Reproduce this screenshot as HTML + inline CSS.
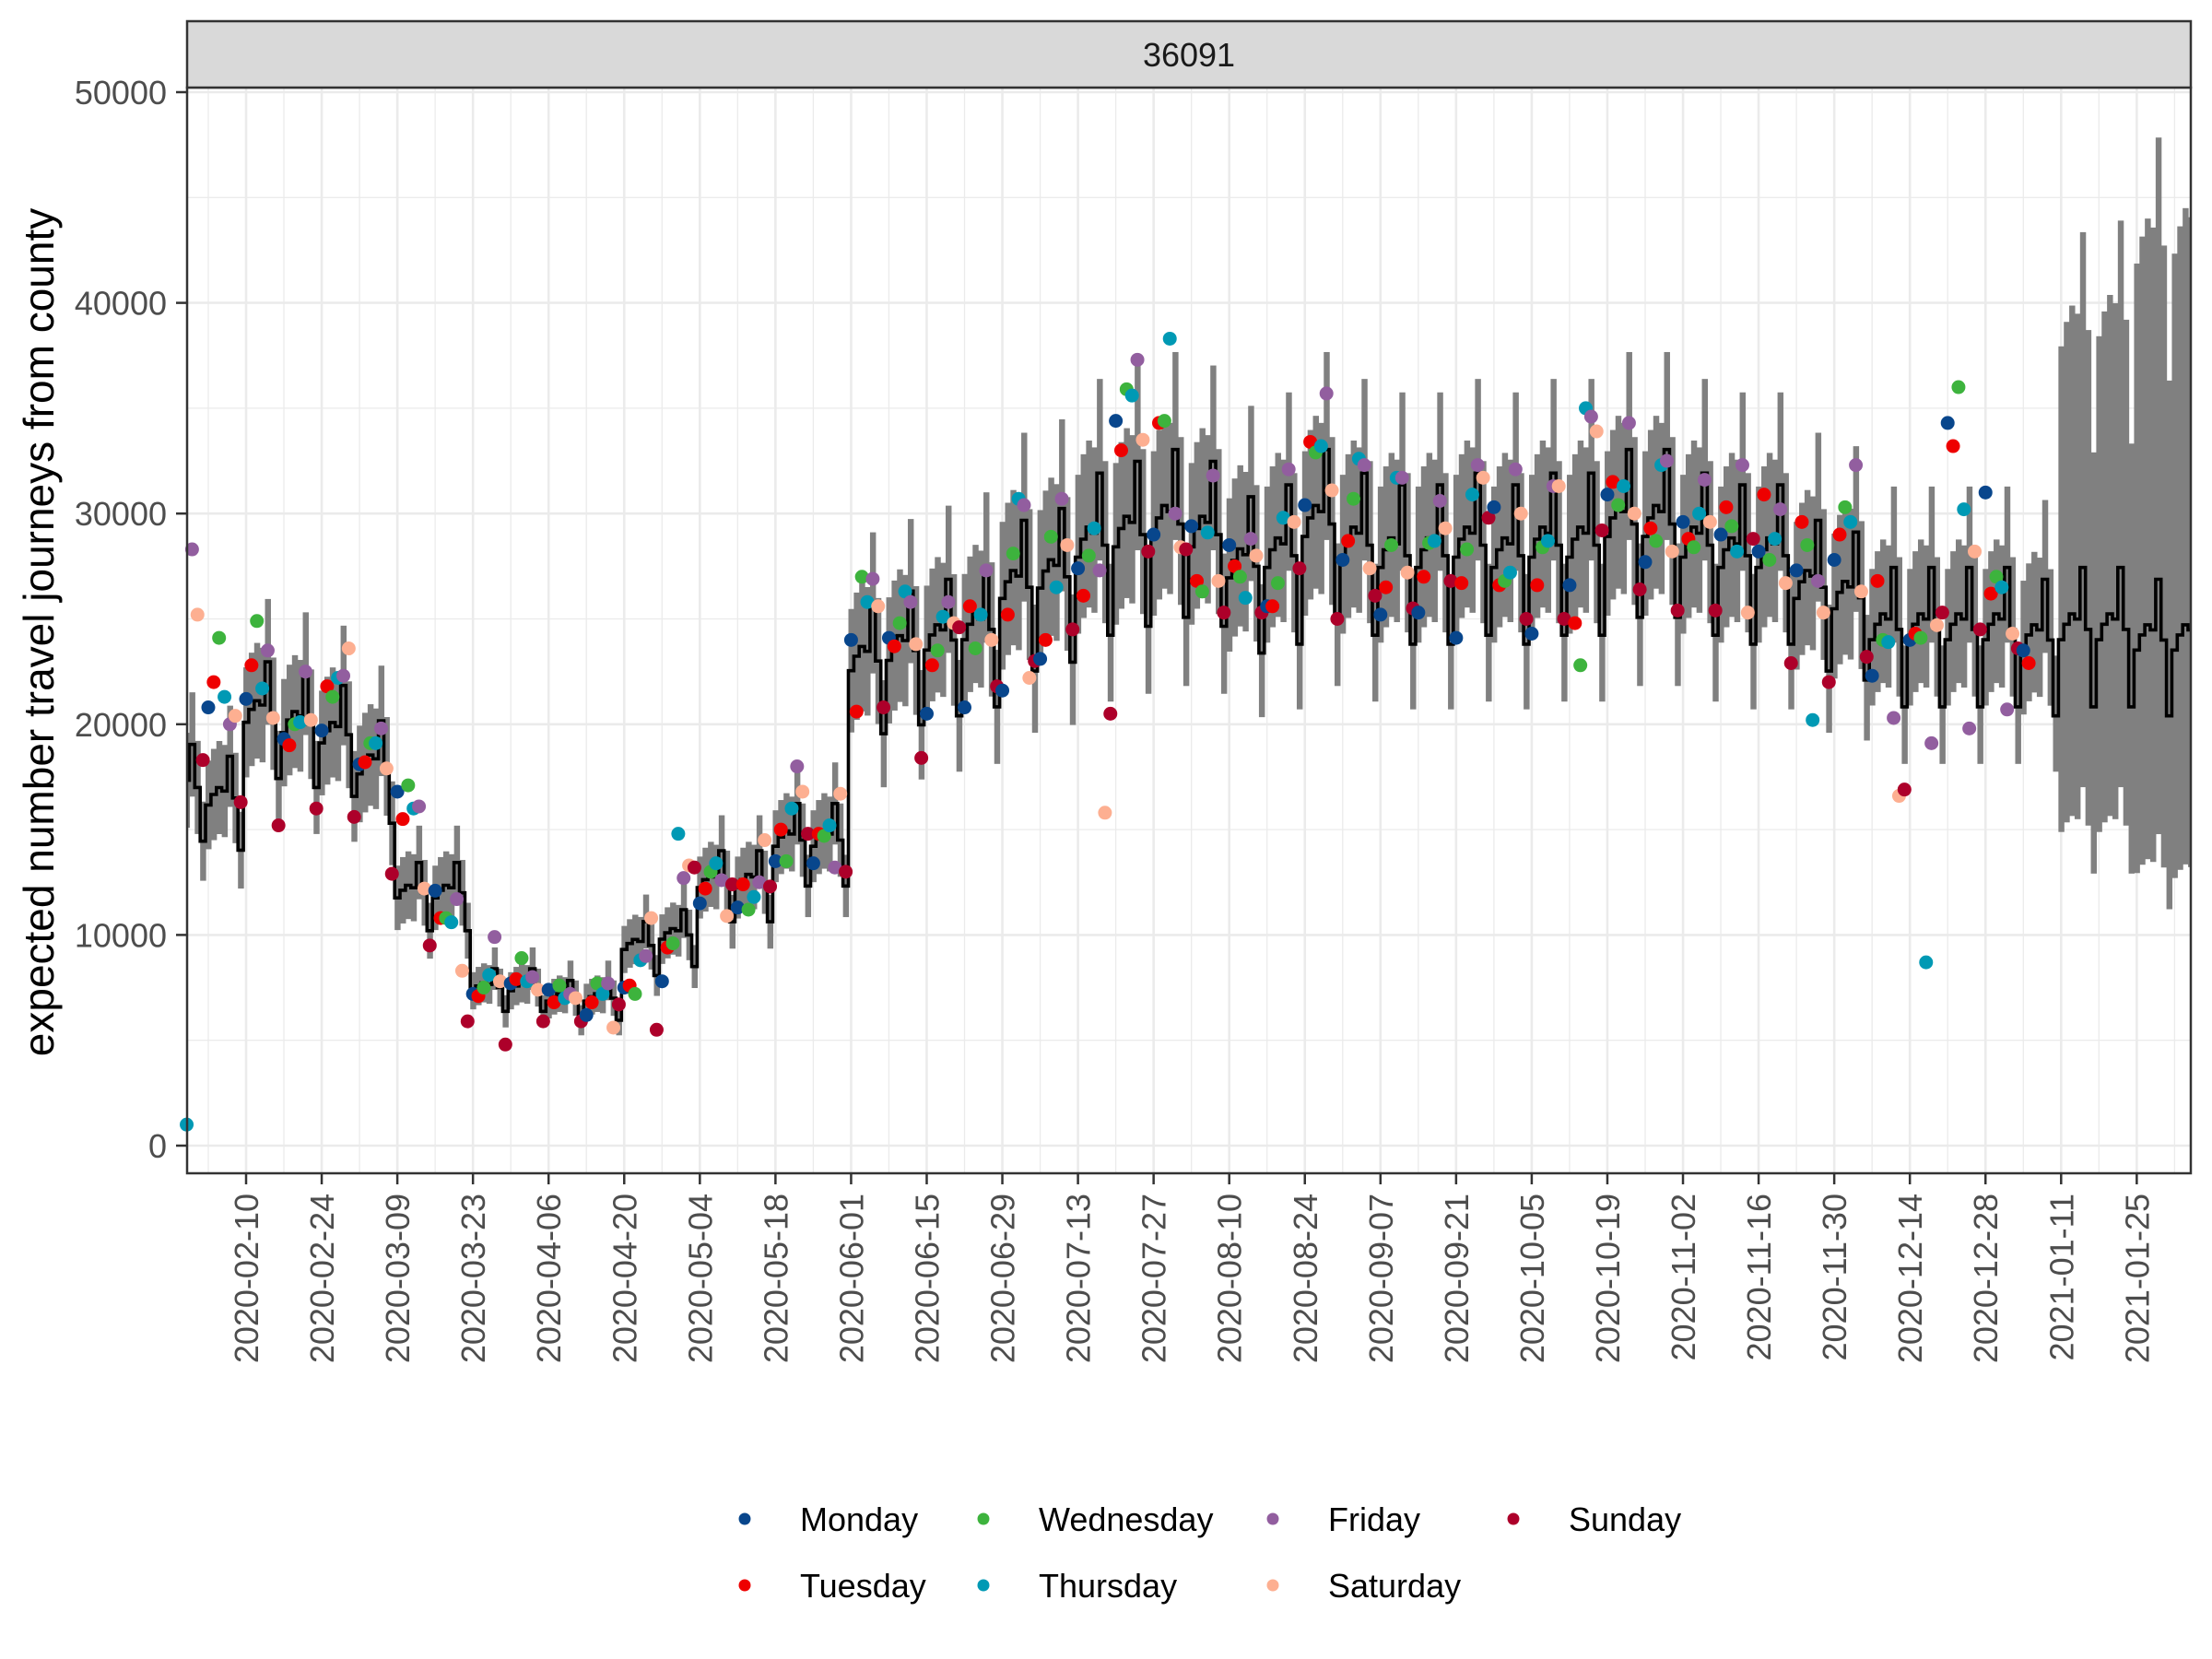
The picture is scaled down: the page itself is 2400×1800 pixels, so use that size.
<!DOCTYPE html>
<html><head><meta charset="utf-8"><title>36091</title>
<style>body{margin:0;background:#fff}svg{display:block;font-family:"Liberation Sans",Arial,sans-serif}</style>
</head><body>
<svg id="chart" xmlns="http://www.w3.org/2000/svg" width="2400" height="1800" viewBox="0 0 2400 1800">
<rect x="0" y="0" width="2400" height="1800" fill="#fff"/>
<g id="grid"></g>
<g id="ribbon"></g>
<path id="fitline" fill="none" stroke="#000" stroke-width="3.6"/>
<g id="points"></g>
<rect x="203" y="95" width="2174" height="1178" fill="none" stroke="#333" stroke-width="2.5"/>
<rect x="203" y="23" width="2174" height="72" fill="#d9d9d9" stroke="#333" stroke-width="2.5"/>
<text x="1290" y="72" font-size="36" text-anchor="middle" fill="#1a1a1a">36091</text>
<g id="axes"></g>
<text transform="translate(58,686) rotate(-90)" font-size="46" text-anchor="middle" fill="#000">expected number travel journeys from county</text>
<g id="legend"></g>
</svg>
<script>
// data (thousands of journeys)
const dayNames = ["Monday","Tuesday","Wednesday","Thursday","Friday","Saturday","Sunday"];
const dayColors = ["#08468C","#EE0000","#3DB33D","#0099B4","#925E9F","#FDAF91","#AD002A"];
const weekStart = "2020-01-27";
const fitLevel = [17,16.5,20.5,20,19.5,18,12,12,7.5,7.5,7,7,9.5,10,12.5,12.5,14.5,14.5,23,23.5,24,24.5,26.5,27,28.5,29,29.5,29,27.5,28,29.5,28.5,28,28,28.5,28,28.5,28.5,29.5,29.5,28.5,28,28,26.5,26,24.5,24.5,24.5,24.5,24,24.5,24.5,24,24];
const dowEffect = [0.98,1.01,1.03,1.02,1.12,1.0,0.85];
const ribbonUp = [0.13,0.13,0.13,0.13,0.13,0.13,0.13,0.13,0.12,0.12,0.12,0.12,0.12,0.12,0.12,0.12,0.12,0.12,0.13,0.13,0.13,0.13,0.14,0.14,0.14,0.14,0.14,0.14,0.14,0.14,0.14,0.14,0.14,0.14,0.14,0.14,0.14,0.14,0.14,0.14,0.14,0.14,0.14,0.14,0.14,0.14,0.14,0.14,0.14,0.14,0.58,0.6,0.78,0.8];
const ribbonDown = [0.13,0.13,0.13,0.13,0.13,0.13,0.13,0.13,0.12,0.12,0.12,0.12,0.12,0.12,0.12,0.12,0.12,0.12,0.13,0.13,0.13,0.13,0.13,0.13,0.13,0.13,0.13,0.13,0.13,0.13,0.13,0.13,0.13,0.13,0.13,0.13,0.13,0.13,0.13,0.13,0.13,0.13,0.13,0.13,0.13,0.13,0.13,0.13,0.13,0.13,0.38,0.38,0.45,0.46];
const observed = [
[null,null,null,1.0,28.3,25.2,18.3],
[20.8,22.0,24.1,21.3,20.0,20.4,16.3],
[21.2,22.8,24.9,21.7,23.5,20.3,15.2],
[19.3,19.0,20.0,20.1,22.5,20.2,16.0],
[19.7,21.8,21.3,22.2,22.3,23.6,15.6],
[18.1,18.2,19.1,19.1,19.8,17.9,12.9],
[16.8,15.5,17.1,16.0,16.1,12.2,9.5],
[12.1,10.8,10.8,10.6,11.7,8.3,5.9],
[7.2,7.1,7.5,8.1,9.9,7.8,4.8],
[7.7,7.9,8.9,7.8,8.0,7.4,5.9],
[7.4,6.8,7.6,7.0,7.2,7.0,5.9],
[6.2,6.8,7.7,7.2,7.7,5.6,6.7],
[7.5,7.6,7.2,8.8,9.0,10.8,5.5],
[7.8,9.4,9.6,14.8,12.7,13.3,13.2],
[11.5,12.2,13.0,13.4,12.6,10.9,12.4],
[11.3,12.4,11.2,11.8,12.5,14.5,12.3],
[13.5,15.0,13.5,16.0,18.0,16.8,14.8],
[13.4,14.8,14.7,15.2,13.2,16.7,13.0],
[24.0,20.6,27.0,25.8,26.9,25.6,20.8],
[24.1,23.7,24.8,26.3,25.8,23.8,18.4],
[20.5,22.8,23.5,25.1,25.8,24.8,24.6],
[20.8,25.6,23.6,25.2,27.3,24.0,21.8],
[21.6,25.2,28.1,30.7,30.4,22.2,23.0],
[23.1,24.0,28.9,26.5,30.7,28.5,24.5],
[27.4,26.1,28.0,29.3,27.3,15.8,20.5],
[34.4,33.0,35.9,35.6,37.3,33.5,28.2],
[29.0,34.3,34.4,38.3,30.0,28.4,28.3],
[29.4,26.8,26.3,29.1,31.8,26.8,25.3],
[28.5,27.5,27.0,26.0,28.8,28.0,25.3],
[25.6,25.6,26.7,29.8,32.1,29.6,27.4],
[30.4,33.4,32.9,33.2,35.7,31.1,25.0],
[27.8,28.7,30.7,32.6,32.3,27.4,26.1],
[25.2,26.5,28.5,31.7,31.7,27.2,25.5],
[25.3,27.0,28.6,28.7,30.6,29.3,26.8],
[24.1,26.7,28.3,30.9,32.3,31.7,29.8],
[30.3,26.6,26.8,27.2,32.1,30.0,25.0],
[24.3,26.6,28.4,28.7,31.3,31.3,25.0],
[26.6,24.8,22.8,35.0,34.6,33.9,29.2],
[30.9,31.5,30.4,31.3,34.3,30.0,26.4],
[27.7,29.3,28.7,32.3,32.5,28.2,25.4],
[29.6,28.8,28.4,30.0,31.6,29.6,25.4],
[29.0,30.3,29.4,28.2,32.3,25.3,28.8],
[28.2,30.9,27.8,28.8,30.2,26.7,22.9],
[27.3,29.6,28.5,20.2,26.8,25.3,22.0],
[27.8,29.0,30.3,29.6,32.3,26.3,23.2],
[22.3,26.8,24.0,23.9,20.3,16.6,16.9],
[24.0,24.3,24.1,8.7,19.1,24.7,25.3],
[34.3,33.2,36.0,30.2,19.8,28.2,24.5],
[31.0,26.2,27.0,26.5,20.7,24.3,23.6],
[23.5,22.9,null,null,null,null,null]
];
const xTickLabels = ["2020-02-10","2020-02-24","2020-03-09","2020-03-23","2020-04-06","2020-04-20","2020-05-04","2020-05-18","2020-06-01","2020-06-15","2020-06-29","2020-07-13","2020-07-27","2020-08-10","2020-08-24","2020-09-07","2020-09-21","2020-10-05","2020-10-19","2020-11-02","2020-11-16","2020-11-30","2020-12-14","2020-12-28","2021-01-11","2021-01-25"];
const yTicks = [0,10000,20000,30000,40000,50000];

const NS = "http://www.w3.org/2000/svg";
const PL = 203, PR = 2377, PT = 95, PB = 1273;
const firstDay = 3, lastDay = 374;
function dayOf(s){return Math.round((Date.parse(s)-Date.parse(weekStart))/86400000);}
function xs(d){return 267 + (d-14)*5.861;}
function ys(v){return 1243 - v*(1243-100)/50000;}
function mk(tag, attrs, parent){const e=document.createElementNS(NS,tag);for(const k in attrs)e.setAttribute(k,attrs[k]);parent.appendChild(e);return e;}

const grid=document.getElementById('grid');
for(let v=5000; v<50000; v+=10000){
  const l=mk('line',{x1:PL,x2:PR,y1:ys(v),y2:ys(v),stroke:'#ebebeb','stroke-width':1.3},grid);
  
  
}
for(let d=7; d<=lastDay; d+=14){
  const l=mk('line',{x1:xs(d),x2:xs(d),y1:PT,y2:PB,stroke:'#ebebeb','stroke-width':1.3},grid);
  
  
}
yTicks.forEach(v=>{
  const l=mk('line',{x1:PL,x2:PR,y1:ys(v),y2:ys(v),stroke:'#ebebeb','stroke-width':2.6},grid);
  
  
});
xTickLabels.forEach(s=>{
  const d=dayOf(s);
  const l=mk('line',{x1:xs(d),x2:xs(d),y1:PT,y2:PB,stroke:'#ebebeb','stroke-width':2.6},grid);
  
  
});

// ribbon + fitted line
const rib=document.getElementById('ribbon');
let path='';
for(let d=firstDay; d<=lastDay; d++){
  const w=Math.floor(d/7), k=d%7;
  const m=fitLevel[w]*dowEffect[k]*1000;
  const hi=m*(1+ribbonUp[w]), lo=m*(1-ribbonDown[w]);
  const x0=Math.max(PL,xs(d-0.5)), x1=Math.min(PR,xs(d+0.5));
  const r=mk('rect',{x:x0,y:ys(hi),width:x1-x0+0.6,height:ys(lo)-ys(hi),fill:'#808080'},rib);
  
  
  path += (d===firstDay?'M':'L')+x0.toFixed(1)+','+ys(m).toFixed(1)+'L'+x1.toFixed(1)+','+ys(m).toFixed(1);
}
document.getElementById('fitline').setAttribute('d',path);

// points
const pts=document.getElementById('points');
observed.forEach((wk,w)=>wk.forEach((v,k)=>{
  if(v===null) return;
  const d=w*7+k;
  const c=mk('circle',{cx:xs(d),cy:ys(v*1000),r:7.5,fill:dayColors[k]},pts);
  
  
}));

// axes
const ax=document.getElementById('axes');
yTicks.forEach(v=>{
  const t=mk('line',{x1:191,x2:203,y1:ys(v),y2:ys(v),stroke:'#333','stroke-width':2.5},ax);
  
  
  const tx=mk('text',{x:181,y:ys(v)+13,'font-size':36,'text-anchor':'end',fill:'#4d4d4d'},ax);
  tx.textContent=String(v);
  
  
});
xTickLabels.forEach(s=>{
  const x=xs(dayOf(s));
  const t=mk('line',{x1:x,x2:x,y1:PB,y2:PB+12,stroke:'#333','stroke-width':2.5},ax);
  
  
  const tx=mk('text',{transform:'translate('+(x+13)+','+(PB+22)+') rotate(-90)','font-size':36,'text-anchor':'end',fill:'#4d4d4d'},ax);
  tx.textContent=s;
  
  
});

// legend
const lg=document.getElementById('legend');
const colX=[808,1067,1381,1642], rowY=[1648,1720];
const order=[[0,0,0],[2,1,0],[4,2,0],[6,3,0],[1,0,1],[3,1,1],[5,2,1]];
order.forEach(([k,c,r])=>{
  const g=mk('g',{},lg);
  
  
  mk('circle',{cx:colX[c],cy:rowY[r],r:6.5,fill:dayColors[k]},g);
  const t=mk('text',{x:colX[c]+60,y:rowY[r]+13,'font-size':36,fill:'#000'},g);
  t.textContent=dayNames[k];
});
</script>
</body></html>
